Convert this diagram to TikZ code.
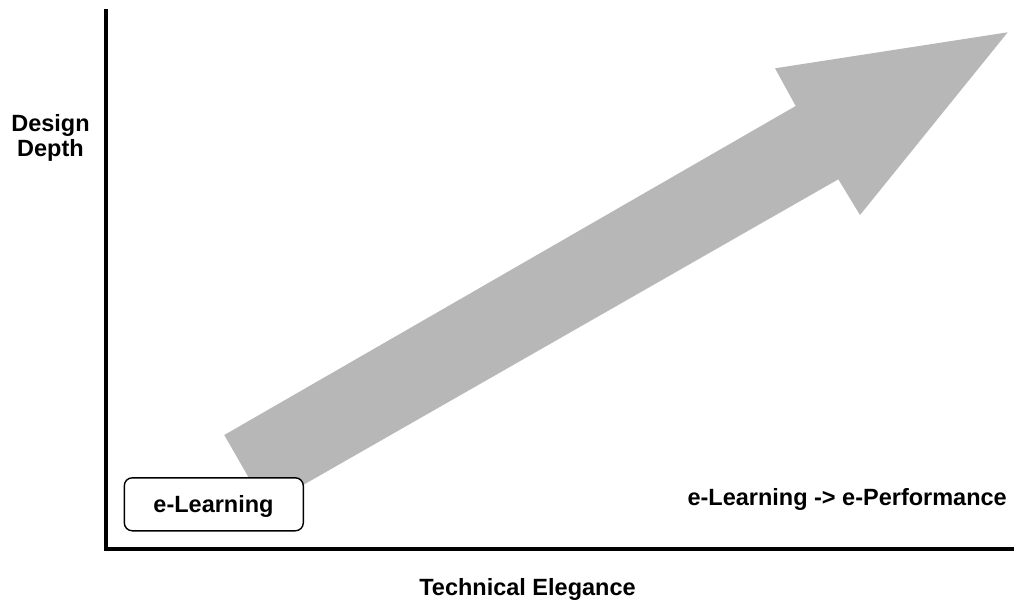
\documentclass[tikz,border=0pt]{standalone}
\usepackage{fontspec}
\setmainfont{Liberation Sans}
\definecolor{arrowgray}{RGB}{183,183,183}
\begin{document}
\begin{tikzpicture}[x=1pt,y=-1pt,
  lbl/.style={font=\bfseries\fontsize{23.5}{25}\selectfont, inner sep=0pt},
  axis/.style={line width=3.5pt},
  boxstyle/.style={draw, line width=1.4pt, rounded corners=8pt, fill=white, minimum width=179pt, minimum height=53pt, inner sep=0pt}]
\useasboundingbox (0,0) rectangle (1014,602);
% arrow
\fill[arrowgray] (224.3,435) -- (795.7,106) -- (775,68.3) -- (1007.7,32.3) -- (860,215) -- (838.3,179.3) -- (265.3,506.6) -- cycle;
% axes
\coordinate (top) at (106,9);
\coordinate (corner) at (106,549);
\coordinate (right) at (1014,549);
\draw[axis] (top) -- (corner) -- (right);
% box
\node[boxstyle] (elearn) at (213.8,504.3) {};
\node[lbl, anchor=base] (elearntxt) at (213.5,512) {e-Learning};
% labels
\node[lbl, align=center, anchor=base] (dd) at (50.5,156.7) {Design\\Depth};
\node[lbl, anchor=base east] (perf) at (1007,505) {e-Learning -> e-Performance};
\node[lbl, anchor=base] (te) at (527.5,595) {Technical Elegance};
\end{tikzpicture}
\end{document}
